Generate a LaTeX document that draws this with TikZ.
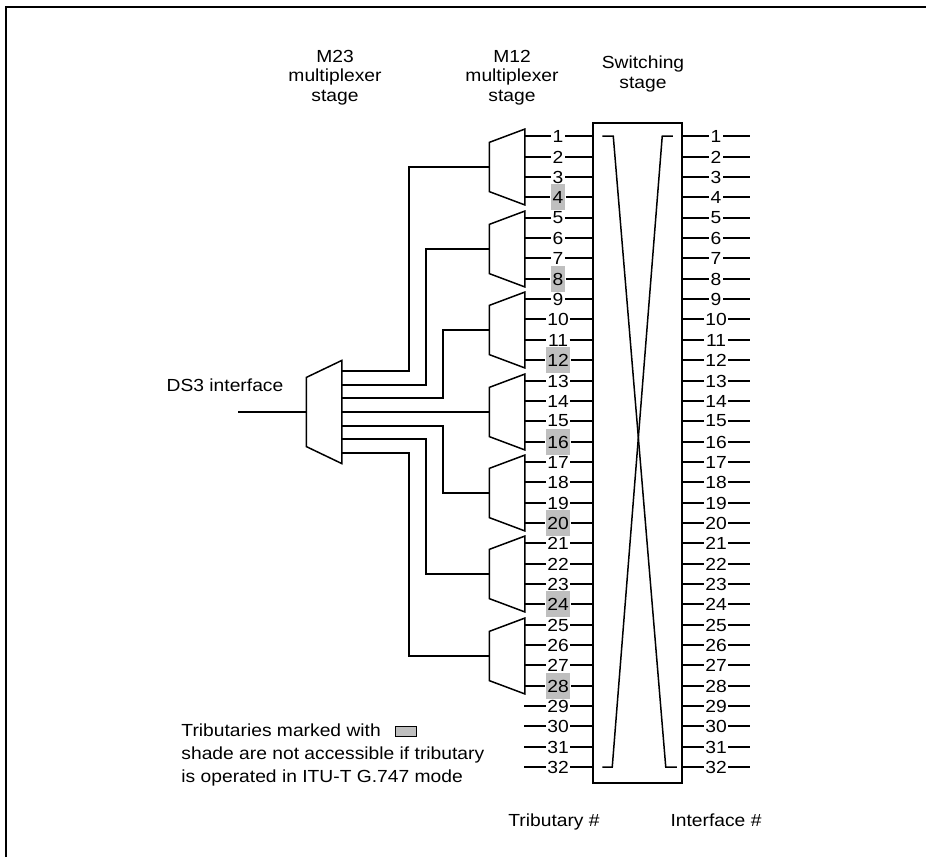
\documentclass[tikz,border=0pt]{standalone}
\usepackage{fontspec}
\setmainfont{Liberation Sans}[FakeStretch=1.1]
\usepackage{tikz}
\usetikzlibrary{positioning}

\tikzset{
  muxbox/.style={minimum width=34, minimum height=74.3, inner sep=0pt},
  trib/.style={inner xsep=1pt, inner ysep=0pt},
  blocked0/.style={},
  blocked1/.style={fill=black!25, minimum height=26, inner xsep=1.5pt},
}

\begin{document}
\begin{tikzpicture}[x=1pt, y=-1pt, line width=1.5pt, font=\fontsize{17.5}{19.7}\selectfont]
        \useasboundingbox (0,0) rectangle (926,857);
        \draw[line width=2pt] (6,857) -- (6,7) -- (926,7);

        \begin{scope}[every node/.style={inner sep=0pt, align=center, anchor=north}]
                \node (T23) at (335,49.2) {M23\\multiplexer\\stage};
                \node (T12) at (512,49.2) {M12\\multiplexer\\stage};
                \node (Tsw) at (643,55.5) {Switching\\stage};
                \node [anchor=base] (Tds) at (225,391.7) {DS3 interface};
                \node [anchor=base] (Ttr) at (554,826.7) {Tributary \#};
                \node [anchor=base] (Tif) at (716,826.7) {Interface \#};
                \node [anchor=north west, align=left, font=\fontsize{17.5}{22.8}\selectfont] (Note) at (180.7,723.2)
                        {Tributaries marked with\\shade are not accessible if tributary\\is operated in ITU-T G.747 mode};
        \end{scope}
        \node [draw, fill=black!25, line width=1pt, minimum width=21, minimum height=10, inner sep=0pt] (Key) at (406,731) {};

        \node [draw, minimum width=89, minimum height=660, inner sep=0pt] (sw) at (637.5,453) {};

        \foreach \n in {1,...,32} {
                \pgfmathsetmacro\y{round(136.3+(\n-1)*20.35)}
                \pgfmathtruncatemacro\sh{(mod(\n,4)==0)*(\n<29)}
                \coordinate (la\n) at (524,\y);
                \coordinate (rb\n) at (750,\y);
                \node [trib, blocked\sh] (tl\n) at (558,\y) {\n};
                \node [trib] (tr\n) at (716,\y) {\n};
                \draw (la\n) -- (tl\n) -- (sw.west |- tl\n);
                \draw (sw.east |- tr\n) -- (tr\n) -- (rb\n);
        }

        \draw ([xshift=10pt]sw.west |- tl1) -- ++(11,0) -- ([xshift=-17pt]sw.east |- tl32) -- ++(11,0);
        \draw ([xshift=-10pt]sw.east |- tl1) -- ++(-10.5,0) -- ([xshift=20pt]sw.west |- tl32) -- ++(-10,0);

        \foreach \k in {1,...,7} {
                \node [muxbox] (mux\k) at (507,{round(136.3+(4*\k-2.5)*20.35+0.5)}) {};
                \draw (mux\k.north east) -- (mux\k.south east) -- ([yshift=13.3pt]mux\k.south west)
                        -- ([yshift=-13.3pt]mux\k.north west) -- cycle;
        }

        \node [muxbox, minimum height=101.6] (mxa) at (mux4 -| 324,0) {};
        \draw (mxa.north east) -- (mxa.south east) -- ([yshift=17pt]mxa.south west)
                -- ([yshift=-17pt]mxa.north west) -- cycle;
        \coordinate (ds3) at (mxa.west -| 238,0);
        \draw (ds3) -- (mxa.west);
        \draw (mxa.east) -- (mux4.west);

        \foreach \i/\x/\d in {1/409/41, 2/426/27, 3/443/14, 5/443/-14, 6/426/-27, 7/409/-41} {
                \coordinate (v\i) at (\x,0);
                \draw ([yshift=\d pt]mxa.east) -| (mux\i.west -| v\i) -- (mux\i.west);
        }
\end{tikzpicture}
\end{document}
